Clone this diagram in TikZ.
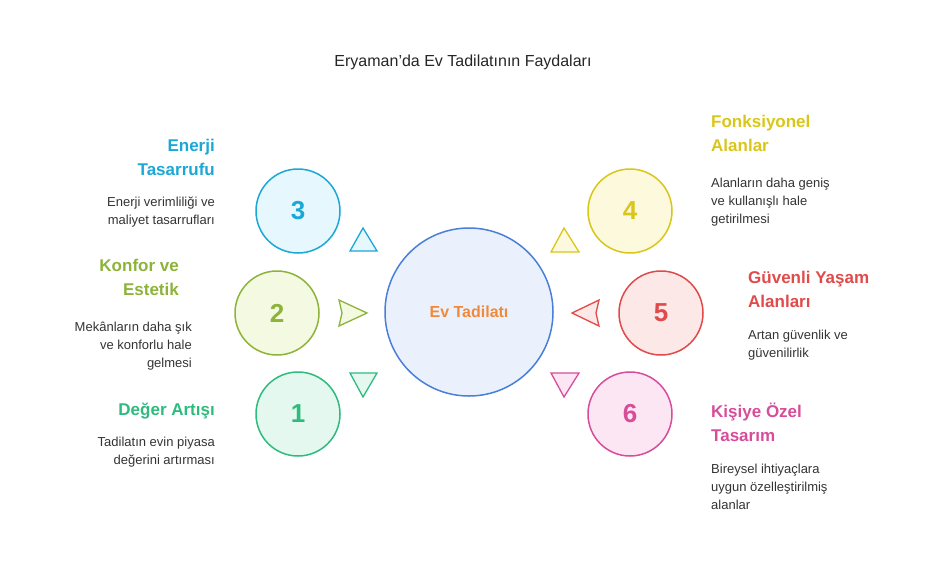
\documentclass[tikz,border=0pt]{standalone}
\usepackage{fontspec}
\setmainfont{Liberation Sans}
\begin{document}
\begin{tikzpicture}[x=1pt,y=-1pt,
 circ/.style={circle,line width=1.5pt,inner sep=0pt,minimum size=#1},
 num/.style={font=\bfseries\fontsize{26}{26}\selectfont},
 head/.style={font=\bfseries\fontsize{17}{24}\selectfont,inner sep=0pt},
 body/.style={font=\fontsize{13}{18}\selectfont,text=black!80,inner sep=0pt},
 tri/.style={line width=1.3pt}]
\useasboundingbox (0,0) rectangle (926,566);
\definecolor{cA}{HTML}{1BA8D6}\definecolor{fA}{HTML}{E6F7FD}
\definecolor{cB}{HTML}{8DB33A}\definecolor{fB}{HTML}{F4F9E1}
\definecolor{cC}{HTML}{2DBB7E}\definecolor{fC}{HTML}{E4F8EF}
\definecolor{cD}{HTML}{D9C61A}\definecolor{fD}{HTML}{FDF9DC}
\definecolor{cE}{HTML}{E04A4A}\definecolor{fE}{HTML}{FDE8E8}
\definecolor{cF}{HTML}{D64D9A}\definecolor{fF}{HTML}{FDE6F3}
\definecolor{cM}{HTML}{4A7FD9}\definecolor{fM}{HTML}{EAF1FC}
\definecolor{orng}{HTML}{F08A3A}
\node[font=\fontsize{16}{16}\selectfont,text=black!85] (title) at (463,62) {Eryaman'da Ev Tadilatının Faydaları};
\node[circ=168pt,draw=cM,fill=fM,text=orng,font=\bfseries\fontsize{16}{16}\selectfont] (m) at (469,312) {Ev Tadilatı};
\node[circ=84pt,draw=cA,fill=fA,text=cA,num] (c3) at (298,211) {3};
\node[circ=84pt,draw=cB,fill=fB,text=cB,num] (c2) at (277,313) {2};
\node[circ=84pt,draw=cC,fill=fC,text=cC,num] (c1) at (298,414) {1};
\node[circ=84pt,draw=cD,fill=fD,text=cD,num] (c4) at (630,211) {4};
\node[circ=84pt,draw=cE,fill=fE,text=cE,num] (c5) at (661,313) {5};
\node[circ=84pt,draw=cF,fill=fF,text=cF,num] (c6) at (630,414) {6};
% triangles
\draw[tri,draw=cA,fill=fA] (363,228) -- (377,251) -- (350,251) -- cycle;
\draw[tri,draw=cB,fill=fB] (367,313) -- (339,326) -- (342,313) -- (339,300) -- cycle;
\draw[tri,draw=cC,fill=fC] (363,397) -- (350,373) -- (377,373) -- cycle;
\draw[tri,draw=cD,fill=fD] (564,228) -- (579,252) -- (551,252) -- cycle;
\draw[tri,draw=cE,fill=fE] (572,313) -- (599,300) -- (596,313) -- (599,326) -- cycle;
\draw[tri,draw=cF,fill=fF] (564,397) -- (551,373) -- (579,373) -- cycle;
% left texts
\node[head,text=cA,align=right,anchor=north east] (h3) at (215,139) {Enerji\\Tasarrufu};
\node[body,align=right,anchor=north east] (b3) at (215,197) {Enerji verimliliği ve\\maliyet tasarrufları};
\node[head,text=cB,align=right,anchor=north east] (h2) at (179,259) {Konfor ve\\Estetik};
\node[body,align=right,anchor=north east] (b2) at (192,322) {Mekânların daha şık\\ve konforlu hale\\gelmesi};
\node[head,text=cC,align=right,anchor=north east] (h1) at (215,403) {Değer Artışı};
\node[body,align=right,anchor=north east] (b1) at (215,437) {Tadilatın evin piyasa\\değerini artırması};
% right texts
\node[head,text=cD,align=left,anchor=north west] (h4) at (711,115) {Fonksiyonel\\Alanlar};
\node[body,align=left,anchor=north west] (b4) at (711,178) {Alanların daha geniş\\ve kullanışlı hale\\getirilmesi};
\node[head,text=cE,align=left,anchor=north west] (h5) at (748,271) {Güvenli Yaşam\\Alanları};
\node[body,align=left,anchor=north west] (b5) at (748,330) {Artan güvenlik ve\\güvenilirlik};
\node[head,text=cF,align=left,anchor=north west] (h6) at (711,403) {Kişiye Özel\\Tasarım};
\node[body,align=left,anchor=north west] (b6) at (711,464) {Bireysel ihtiyaçlara\\uygun özelleştirilmiş\\alanlar};
\end{tikzpicture}
\end{document}
